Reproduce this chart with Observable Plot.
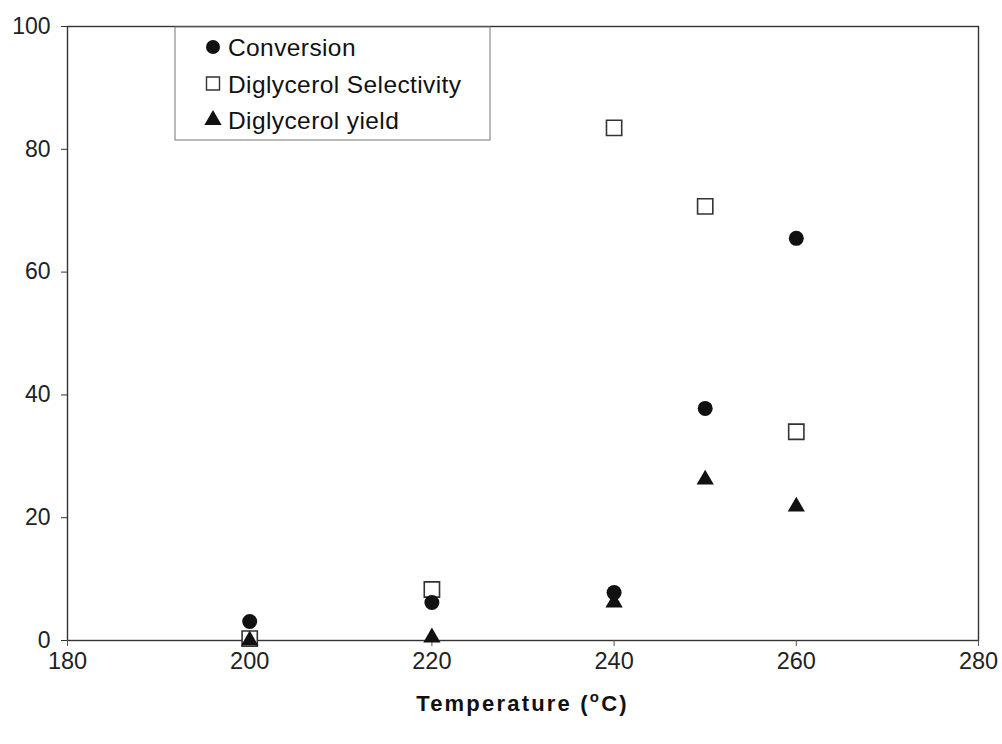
<!DOCTYPE html>
<html>
<head>
<meta charset="utf-8">
<script src="https://cdn.jsdelivr.net/npm/d3@7"></script>
<script src="https://cdn.jsdelivr.net/npm/@observablehq/plot@0.6"></script>
<style>
  html, body { margin: 0; padding: 0; background: #fff; }
  #chart { position: relative; width: 1002px; height: 744px; }
</style>
</head>
<body>
<div id="chart"></div>
<script>
// ---- data ----
const temperatures = [200, 220, 240, 250, 260];
const conversion   = [3.1, 6.2, 7.8, 37.8, 65.5];
const selectivity  = [0.3, 8.3, 83.5, 70.7, 34.0];
const yieldDG      = [0.0, 0.5, 6.2, 26.2, 21.8];
const seriesNames  = ["Conversion", "Diglycerol Selectivity", "Diglycerol yield"];
const xTicks = [180, 200, 220, 240, 260, 280];
const yTicks = [0, 20, 40, 60, 80, 100];

const rows = (vals) => temperatures.map((t, i) => ({ t, v: vals[i] }));

const W = 1002, H = 744;
const mL = 67, mR = 24, mT = 26, mB = 104;
const font = "Liberation Sans, Arial, Helvetica, sans-serif";

const plot = Plot.plot({
  width: W,
  height: H,
  marginLeft: mL,
  marginRight: mR,
  marginTop: mT,
  marginBottom: mB,
  style: { fontFamily: font, fontSize: "22px", color: "#222", background: "#fff", overflow: "visible" },
  x: { domain: [180, 280], ticks: xTicks, label: null },
  y: { domain: [0, 100], ticks: yTicks, label: null },
  marks: [
    Plot.frame({ stroke: "#333", strokeWidth: 1.4 }),
    Plot.axisX({ ticks: xTicks, tickSize: 6, tickPadding: 6, label: null, stroke: "#555", fontSize: 23.5, fill: "#222" }),
    Plot.axisY({ ticks: yTicks, tickSize: 6, tickPadding: 11, label: null, stroke: "#333", fontSize: 23, fill: "#222" }),
    Plot.dot(rows(selectivity), { x: "t", y: "v", symbol: "square", r: 8.6, fill: "#fff", stroke: "#333", strokeWidth: 1.6 }),
    Plot.dot(rows(conversion), { x: "t", y: "v", symbol: "circle", r: 7.5, fill: "#111", stroke: "none" }),
    Plot.dot(rows(yieldDG), { x: "t", y: "v", symbol: "triangle", r: 6.4, fill: "#111", stroke: "none" })
  ]
});

document.getElementById("chart").appendChild(plot);

const svg = d3.select(plot);

// x-axis title with superscript "o"
const title = svg.append("text")
  .attr("x", (mL + (W - mR)) / 2)
  .attr("y", 711)
  .attr("text-anchor", "middle")
  .attr("font-family", font)
  .attr("font-weight", "bold")
  .attr("font-size", 22)
  .attr("letter-spacing", "2.2px")
  .attr("fill", "#111");
title.append("tspan").text("Temperature (");
title.append("tspan").attr("font-size", 15).attr("dy", -9).text("o");
title.append("tspan").attr("dy", 9).text("C)");

// legend box inside the plot area
const lg = svg.append("g").attr("transform", "translate(175,27)");
lg.append("rect").attr("x", 0).attr("y", 0).attr("width", 315).attr("height", 113)
  .attr("fill", "#fff").attr("stroke", "#777").attr("stroke-width", 1);
const symDefs = [
  { type: d3.symbolCircle, size: Math.PI * 7 * 7, fill: "#111", stroke: "none" },
  { type: d3.symbolSquare, size: 13 * 13, fill: "#fff", stroke: "#333" },
  { type: d3.symbolTriangle, size: Math.PI * 6.4 * 6.4, fill: "#111", stroke: "none" }
];
seriesNames.forEach((name, i) => {
  const cy = 20 + i * 36.5;
  lg.append("path")
    .attr("d", d3.symbol(symDefs[i].type, symDefs[i].size)())
    .attr("transform", `translate(38,${cy})`)
    .attr("fill", symDefs[i].fill)
    .attr("stroke", symDefs[i].stroke)
    .attr("stroke-width", 1.4);
  lg.append("text")
    .attr("x", 53)
    .attr("y", cy + 9)
    .attr("text-anchor", "start")
    .attr("font-family", font)
    .attr("font-size", 24.5)
    .attr("letter-spacing", "0.4px")
    .attr("fill", "#111")
    .text(name);
});
</script>
</body>
</html>
